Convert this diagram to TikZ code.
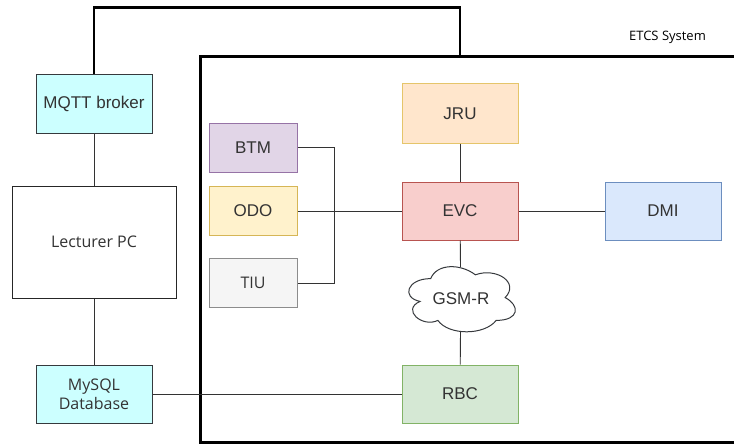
\documentclass[tikz,border=0pt]{standalone}
\usepackage{fontspec}
\setmainfont{Liberation Sans}
\newfontfamily\osans{Open Sans}
\definecolor{txt}{HTML}{333333}
\definecolor{edge}{HTML}{36393D}
\definecolor{cyanfill}{HTML}{CCFFFF}
\definecolor{purfill}{HTML}{E1D5E7}\definecolor{purdraw}{HTML}{9673A6}
\definecolor{yelfill}{HTML}{FFF2CC}\definecolor{yeldraw}{HTML}{D6B656}
\definecolor{grafill}{HTML}{F5F5F5}\definecolor{gradraw}{HTML}{8C8C8C}
\definecolor{orafill}{HTML}{FFE6CC}\definecolor{oradraw}{HTML}{E5C56A}
\definecolor{redfill}{HTML}{F8CECC}\definecolor{reddraw}{HTML}{B85450}
\definecolor{blufill}{HTML}{DAE8FC}\definecolor{bludraw}{HTML}{6C8EBF}
\definecolor{grefill}{HTML}{D5E8D4}\definecolor{gredraw}{HTML}{82B366}
\begin{document}
\begin{tikzpicture}[x=1pt,y=-1pt,
  box/.style={draw=edge, line width=1pt, inner sep=0pt, text=txt,
    minimum width=116pt, minimum height=58pt,
    font=\fontsize{17}{20}\selectfont, align=center},
  small/.style={box, minimum width=88pt, minimum height=49pt},
  conn/.style={draw=txt, line width=0.9pt},
  frame/.style={draw=black, line width=2.7pt}]
\useasboundingbox (0,0) rectangle (734,444);

% left column: broker, lecturer PC, database
\node[box, fill=cyanfill] (mqtt) at (94,104) {MQTT broker};
\node[box, fill=white, draw=black!85, minimum width=164pt, minimum height=112pt,
      font=\osans\fontsize{16}{20}\selectfont] (lect) at (94,242) {Lecturer PC};
\node[box, fill=cyanfill, font=\osans\fontsize{16}{20}\selectfont] (mysql) at (94,394) {MySQL\\[-1pt]Database};

% ETCS system frame and its link to the broker
\coordinate (lnk) at (460,56.3);
\draw[frame] (734,56.3) -- (200.3,56.3) -- (200.3,442.8) -- (734,442.8);
\draw[frame] (mqtt.north) -- ++(0,-67.2) -| (lnk);
\node[text=black, font=\osans\fontsize{13}{15}\selectfont] (etcs) at (667.5,37.5) {ETCS System};

% on-board units
\node[small, fill=purfill, draw=purdraw] (btm) at (253,147.5) {BTM};
\node[small, fill=yelfill, draw=yeldraw] (odo) at (253,211) {ODO};
\node[small, fill=grafill, draw=gradraw, font=\osans\fontsize{16}{20}\selectfont] (tiu) at (253,283) {TIU};
\node[box, fill=orafill, draw=oradraw, minimum height=59pt] (jru) at (460,113.5) {JRU};
\node[box, fill=redfill, draw=reddraw] (evc) at (460,211) {EVC};
\node[box, fill=blufill, draw=bludraw] (dmi) at (663,211) {DMI};
\node[box, fill=grefill, draw=gredraw] (rbc) at (460,394) {RBC};

% GSM-R cloud
\begin{scope}[shift={(401,259.6)}, x=119pt, y=-76pt]
  \draw[draw=edge, line width=1pt, fill=white]
    (0.25,0.25) .. controls (0.05,0.25) and (0,0.5) .. (0.16,0.55)
    .. controls (0,0.66) and (0.18,0.9) .. (0.31,0.8)
    .. controls (0.4,1) and (0.7,1) .. (0.8,0.8)
    .. controls (1,0.8) and (1,0.6) .. (0.875,0.5)
    .. controls (1,0.3) and (0.8,0.1) .. (0.625,0.2)
    .. controls (0.5,0.05) and (0.3,0.05) .. (0.25,0.25) -- cycle;
  \coordinate (gsmtop) at (0.5,0.095);
  \coordinate (gsmbot) at (0.5,0.944);
\end{scope}
\node[text=txt, font=\fontsize{17}{20}\selectfont] (gsm) at (461,299) {GSM-R};

% connectors
\draw[conn] (mqtt) -- (lect);
\draw[conn] (lect) -- (mysql);
\draw[conn] (mysql) -- (rbc);
\draw[conn] (btm.east) -- ++(37.3,0) |- (tiu.east);
\draw[conn] (odo) -- (evc);
\draw[conn] (jru) -- (evc);
\draw[conn] (evc) -- (dmi);
\draw[conn] (evc) -- (gsmtop);
\draw[conn] (gsmbot) -- (rbc);
\end{tikzpicture}
\end{document}
